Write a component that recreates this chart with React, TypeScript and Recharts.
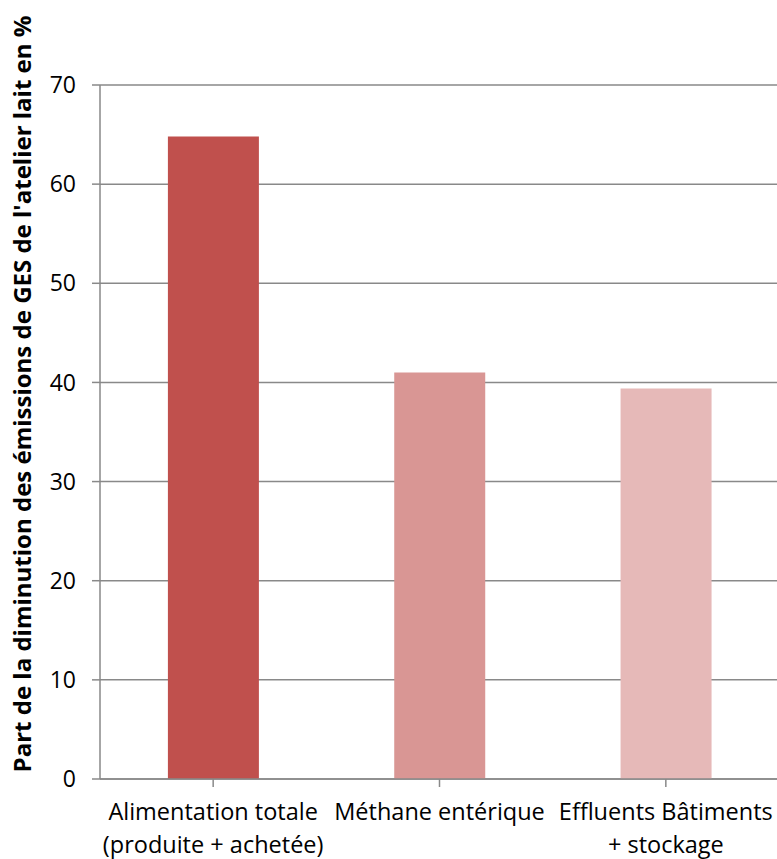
import { BarChart, Bar, XAxis, YAxis, CartesianGrid, Cell, Label } from 'recharts';

const categories = ['Alimentation totale|(produite + achetée)', 'Méthane entérique', 'Effluents Bâtiments|+ stockage'];
const values = [64.8, 41.0, 39.4];
const colors = ['#C0504D', '#D99694', '#E6B9B8'];
const yTicks = [0, 10, 20, 30, 40, 50, 60, 70];

const data = categories.map((name, i) => ({ name, value: values[i] }));

const FONT = '"Open Sans", sans-serif';
const AXIS = '#898989';

// category names use "|" for the line break
function CategoryTick({ x, y, payload }: any) {
  const lines = String(payload.value).split('|');
  return (
    <text x={x} y={y} textAnchor="middle" fontFamily={FONT} fontSize={23.5} fill="#000">
      {lines.map((l, i) => (
        <tspan key={i} x={x} dy={i === 0 ? 31 : 33}>
          {l}
        </tspan>
      ))}
    </text>
  );
}

function AxisTitle() {
  return (
    <text
      x={31}
      y={394}
      transform="rotate(-90 31 394)"
      textAnchor="middle"
      fontFamily={FONT}
      fontWeight="bold"
      fontSize={24}
      fill="#000"
    >
      Part de la diminution des émissions de GES de l'atelier lait en %
    </text>
  );
}

export default function App() {
  return (
    <div style={{ position: 'absolute', top: 0, left: 0, width: 777, height: 859, overflow: 'hidden', background: '#fff' }}>
      <BarChart
        width={790}
        height={859}
        data={data}
        margin={{ top: 85, right: 11, bottom: 0, left: 0 }}
        barCategoryGap="30%"
      >
        <CartesianGrid vertical={false} stroke={AXIS} strokeWidth={1.5} />
        <XAxis
          dataKey="name"
          height={80}
          stroke={AXIS}
          strokeWidth={1.5}
          tickSize={8}
          interval={0}
          tick={<CategoryTick />}
          tickLine={{ stroke: AXIS }}
          scale="band"
        />
        <YAxis
          width={100}
          domain={[0, 70]}
          ticks={yTicks}
          interval={0}
          stroke={AXIS}
          strokeWidth={1.5}
          tickSize={8}
          tickMargin={16}
          tick={{ fontFamily: FONT, fontSize: 23, fill: '#000' }}
        >
          <Label content={<AxisTitle />} />
        </YAxis>
        <Bar dataKey="value" isAnimationActive={false}>
          {data.map((_, i) => (
            <Cell key={i} fill={colors[i]} />
          ))}
        </Bar>
      </BarChart>
    </div>
  );
}
